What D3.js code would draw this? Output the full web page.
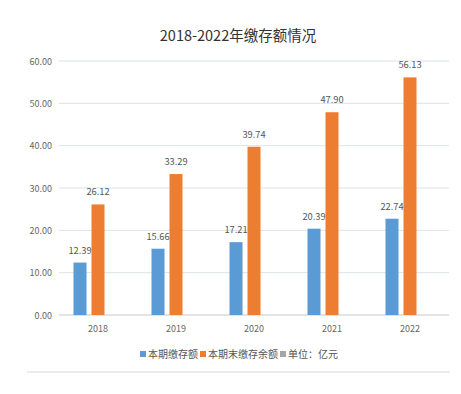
<!DOCTYPE html>
<html>
<head>
<meta charset="UTF-8">
<script src="https://d3js.org/d3.v7.min.js"></script>
<style>
  body { margin: 0; background: #fff; }
  svg { font-family: "Noto Sans CJK SC", "Microsoft YaHei", sans-serif; }
</style>
</head>
<body>
<svg width="461" height="394"></svg>
<script>
const years = ['2018', '2019', '2020', '2021', '2022'];
const deposits = [12.39, 15.66, 17.21, 20.39, 22.74];
const balances = [26.12, 33.29, 39.74, 47.90, 56.13];
const yTicks = [0, 10, 20, 30, 40, 50, 60];
const seriesNames = ['本期缴存额', '本期末缴存余额', '单位：亿元'];
const colors = ['#5B9BD5', '#ED7D31', '#A5A5A5'];

const svg = d3.select('svg');

// Plot area
const plotLeft = 59, plotRight = 449, plotTop = 61, plotBottom = 315;

const x = d3.scaleBand().domain(years).range([plotLeft, plotRight]);
const y = d3.scaleLinear().domain([0, 60]).range([plotBottom, plotTop]);

// third series ("单位") is empty but still takes a slot in each group
const barW = 13, barStep = 18;

// Title
svg.append('text')
  .attr('x', 238).attr('y', 41)
  .attr('text-anchor', 'middle')
  .attr('font-size', 14.5)
  .attr('fill', '#333')
  .text('2018-2022年缴存额情况');

// Gridlines
svg.append('g').selectAll('line')
  .data(yTicks)
  .join('line')
  .attr('x1', plotLeft).attr('x2', plotRight)
  .attr('y1', d => y(d)).attr('y2', d => y(d))
  .attr('stroke', d => d === 0 ? '#c8c8c8' : '#dde3e8')
  .attr('stroke-width', 1);

// Y tick labels
svg.append('g').selectAll('text')
  .data(yTicks)
  .join('text')
  .attr('x', 52).attr('y', d => y(d) + 3.5)
  .attr('text-anchor', 'end')
  .attr('font-size', 9)
  .attr('fill', '#666')
  .text(d => d.toFixed(2));

// X labels
svg.append('g').selectAll('text')
  .data(years)
  .join('text')
  .attr('x', d => x(d) + x.bandwidth() / 2)
  .attr('y', 332)
  .attr('text-anchor', 'middle')
  .attr('font-size', 9)
  .attr('fill', '#666')
  .text(d => d);

// Bars
const series = [deposits, balances];
series.forEach((vals, si) => {
  const offset = (si - 1) * barStep - barW / 2;
  const g = svg.append('g');
  g.selectAll('rect')
    .data(vals)
    .join('rect')
    .attr('x', (d, i) => x(years[i]) + x.bandwidth() / 2 + offset)
    .attr('y', d => y(d))
    .attr('width', barW)
    .attr('height', d => plotBottom - y(d))
    .attr('fill', colors[si]);
  g.selectAll('text')
    .data(vals)
    .join('text')
    .attr('x', (d, i) => x(years[i]) + x.bandwidth() / 2 + offset + barW / 2)
    .attr('y', d => y(d) - 9)
    .attr('text-anchor', 'middle')
    .attr('font-size', 9.3)
    .attr('fill', '#555')
    .text(d => d.toFixed(2));
});

// Legend
const legend = svg.append('g').attr('font-size', 10).attr('fill', '#555');
let lx = 140;
seriesNames.forEach((name, i) => {
  legend.append('rect')
    .attr('x', lx).attr('y', 351)
    .attr('width', 6).attr('height', 6)
    .attr('fill', colors[i]);
  const t = legend.append('text')
    .attr('x', lx + 8).attr('y', 358)
    .text(name);
  lx += 8 + t.node().getComputedTextLength() + 2;
});

// Bottom divider
svg.append('line')
  .attr('x1', 27).attr('x2', 450)
  .attr('y1', 372).attr('y2', 372)
  .attr('stroke', '#d8d8d8');
</script>
</body>
</html>
